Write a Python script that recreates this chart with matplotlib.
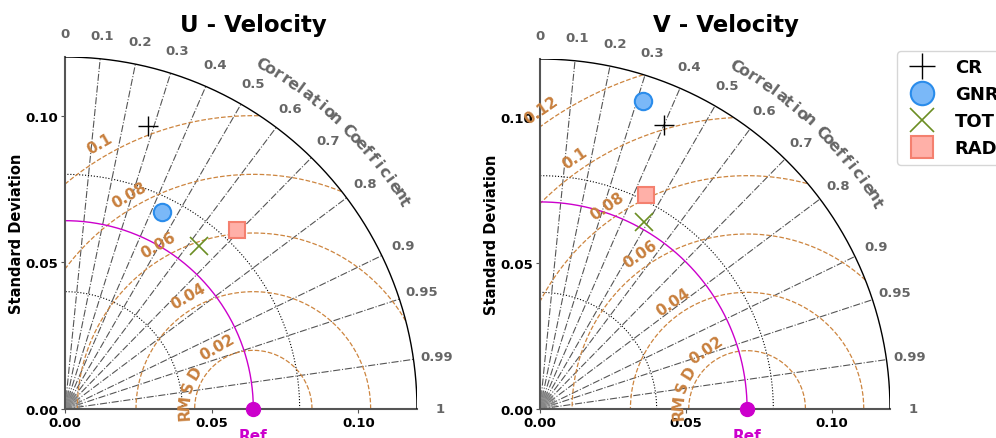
import numpy as np
import matplotlib
matplotlib.use("Agg")
import matplotlib.pyplot as plt
from matplotlib.lines import Line2D

# ---------------- data ----------------
titles = ["U - Velocity", "V - Velocity"]
ref_std = [0.0642, 0.0710]
model_names = ["CR", "GNR", "TOT", "RAD"]
u_std = [0.1006, 0.0748, 0.0718, 0.0847]
u_cor = [0.280, 0.442, 0.634, 0.694]
v_std = [0.1062, 0.1114, 0.0735, 0.0818]
v_cor = [0.401, 0.318, 0.486, 0.444]
rms_levels = [[0.02, 0.04, 0.06, 0.08, 0.10],
              [0.02, 0.04, 0.06, 0.08, 0.10, 0.12]]
rms_labels = [["0.02", "0.04", "0.06", "0.08", "0.1"],
              ["0.02", "0.04", "0.06", "0.08", "0.1", "0.12"]]
cor_ticks = [0.1, 0.2, 0.3, 0.4, 0.5, 0.6, 0.7, 0.8, 0.9, 0.95, 0.99]
cor_tick_labels = ["0", "0.1", "0.2", "0.3", "0.4", "0.5", "0.6", "0.7", "0.8",
                   "0.9", "0.95", "0.99", "1"]
cor_label_vals = [0.0] + cor_ticks + [1.0]
std_grid = [0.04, 0.08]
std_ticks = [0.0, 0.05, 0.10]
axis_max = 0.12

# ---------------- styles ----------------
GRAY = "#666666"
ORANGE = "#CD853F"
styles = {
    "CR": dict(marker="+", ms=14, mew=1.0, color="black", mfc="black", mec="black"),
    "GNR": dict(marker="o", ms=12.5, mew=1.5, color="#2a8ceb", mfc="#7ab8f8", mec="#2a8ceb"),
    "TOT": dict(marker="x", ms=13, mew=1.2, color="#6b8e23", mfc="#6b8e23", mec="#6b8e23"),
    "RAD": dict(marker="s", ms=12, mew=1.5, color="#f4806f", mfc="#ffb0a8", mec="#f4806f"),
}

fig = plt.figure(figsize=(9.96, 4.39), dpi=100)
W, H = 996, 439
axes_px = [(65, 410, 352), (540, 410, 350)]
title_x = [253, 726]
rms_angle = [120, 124.5]


def draw_panel(ax, ref, stds, cors, levels, labels, ang_lbl):
    t = np.linspace(0, np.pi / 2, 300)
    # outer arc
    ax.plot(axis_max * np.cos(t), axis_max * np.sin(t), color="black", lw=1.0, zorder=3)
    # std grid circles
    for s in std_grid:
        ax.plot(s * np.cos(t), s * np.sin(t), color="black", ls=":", lw=0.8, zorder=1)
    # correlation lines
    for c in cor_ticks:
        a = np.arccos(c)
        ax.plot([0, axis_max * np.cos(a)], [0, axis_max * np.sin(a)],
                color="#555555", ls="-.", lw=0.8, zorder=1)
    # short fan near origin
    for c in np.arange(0.02, 1.0, 0.04):
        a = np.arccos(c)
        ax.plot([0, 0.006 * np.cos(a)], [0, 0.006 * np.sin(a)],
                color="#888888", lw=0.5, zorder=1)
    for rr in [0.002, 0.0035, 0.005]:
        ax.plot(rr * np.cos(t), rr * np.sin(t), color="#888888", lw=0.5, zorder=1)
    # correlation tick labels
    for v, lab in zip(cor_label_vals, cor_tick_labels):
        a = np.arccos(v)
        ax.text(0.128 * np.cos(a), 0.128 * np.sin(a), lab, color=GRAY,
                fontsize=9.5, fontweight="bold", ha="center", va="center", clip_on=False)
    # "Correlation Coefficient" curved label
    txt = "Correlation Coefficient"
    angs = np.linspace(60.3, 31.5, len(txt))
    for ch, ad in zip(txt, angs):
        a = np.deg2rad(ad)
        ax.text(0.1355 * np.cos(a), 0.1355 * np.sin(a), ch, color=GRAY,
                fontsize=11.5, fontweight="bold", ha="center", va="center",
                rotation=ad - 90, rotation_mode="anchor", clip_on=False)
    # RMSD contours
    tt = np.linspace(0, np.pi, 600)
    for r in levels:
        x = ref + r * np.cos(tt)
        y = r * np.sin(tt)
        m = (x < 0) | (np.hypot(x, y) > axis_max)
        x = np.where(m, np.nan, x)
        y = np.where(m, np.nan, y)
        ax.plot(x, y, color=ORANGE, ls="--", lw=0.9, zorder=1)
    a = np.deg2rad(ang_lbl)
    for r, lab in zip(levels, labels):
        rr = r + 0.0045
        ax.text(ref + rr * np.cos(a), rr * np.sin(a), lab, color="#C8803E",
                fontsize=11, fontweight="bold", ha="center", va="center",
                rotation=ang_lbl - 90, rotation_mode="anchor", clip_on=False)
    for ch, ad in zip("RMSD", [184, 174, 161, 148]):
        b = np.deg2rad(ad)
        ax.text(ref + 0.0235 * np.cos(b), 0.0235 * np.sin(b), ch, color="#C8803E",
                fontsize=11, fontweight="bold", ha="center", va="center",
                rotation=ad - 90, rotation_mode="anchor", clip_on=False)
    # reference arc and point
    ax.plot(ref * np.cos(t), ref * np.sin(t), color="#cc00cc", lw=1.0, zorder=2)
    ax.plot([ref], [0], "o", color="#cc00cc", ms=10, clip_on=False, zorder=5)
    ax.annotate("Ref", (ref, 0), xytext=(0, -19), textcoords="offset pixels",
                color="#cc00cc", fontsize=11, fontweight="bold", ha="center",
                va="top", annotation_clip=False)
    # models
    for name, s, c in zip(model_names, stds, cors):
        st = styles[name]
        ax.plot([s * c], [s * np.sqrt(1 - c * c)], ls="none", zorder=6, **st)

    ax.set_xlim(0, axis_max)
    ax.set_ylim(0, axis_max)
    ax.set_aspect("equal")
    for sp in ["top", "right"]:
        ax.spines[sp].set_visible(False)
    for sp in ["left", "bottom"]:
        ax.spines[sp].set_color("#555555")
        ax.spines[sp].set_linewidth(1.5)
    ax.set_xticks(std_ticks)
    ax.set_yticks(std_ticks)
    ax.set_xticklabels(["%.2f" % v for v in std_ticks], fontweight="bold", fontsize=9.5)
    ax.set_yticklabels(["%.2f" % v for v in std_ticks], fontweight="bold", fontsize=9.5)
    ax.tick_params(length=3, pad=2, color="#555555")
    ax.set_ylabel("Standard Deviation", fontweight="bold", fontsize=10.5, labelpad=1)


data = [(u_std, u_cor), (v_std, v_cor)]
for i in range(2):
    x0, y0, size = axes_px[i]
    ax = fig.add_axes([x0 / W, (H - y0) / H, size / W, size / H])
    draw_panel(ax, ref_std[i], data[i][0], data[i][1], rms_levels[i], rms_labels[i], rms_angle[i])
    fig.text(title_x[i] / W, 1 - 32 / H, titles[i], fontsize=16.5, fontweight="bold",
             ha="center", va="baseline")

handles = [Line2D([], [], ls="none", **styles[n]) for n in model_names]
leg = fig.legend(handles, model_names, loc="upper left", bbox_to_anchor=(897 / W, 1 - 52 / H),
                 prop=dict(weight="bold", size=13), markerscale=1.35, borderaxespad=0)

fig.savefig("out.png", dpi=100)
